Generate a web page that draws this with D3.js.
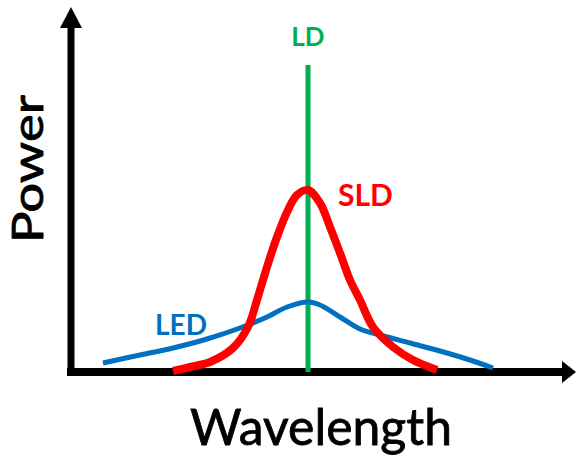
<!DOCTYPE html>
<html>
<head>
<meta charset="utf-8">
<script src="https://cdn.jsdelivr.net/npm/d3@7"></script>
<style>
  body { margin: 0; background: #fff; }
  svg { display: block; }
  text { font-family: Lato, "Open Sans", sans-serif; }
</style>
</head>
<body>
<svg id="chart" width="576" height="456"></svg>
<script>
// wavelength (arbitrary units) and power (arbitrary units)
var sldWave  = [102, 119, 139, 162, 177, 186, 196, 206, 217, 226, 237, 249, 259, 269, 279, 289, 302, 322, 342, 366];
var sldPower = [1, 5, 10, 24, 45, 72, 105, 135, 162, 177, 182, 169, 145, 119, 92, 72, 45, 25, 12, 2];

var ledWave  = [32, 69, 102, 136, 169, 196, 216, 237, 249, 269, 289, 309, 339, 376, 399, 422];
var ledPower = [9, 17, 24, 33, 44, 55, 65, 70, 67, 55, 43, 37, 29, 19, 12, 4];

var ldWave  = [237, 237];
var ldPower = [0, 307];

var axisLabels = {x: "Wavelength", y: "Power"};

var svg = d3.select("#chart"),
    margin = {top: 27, right: 13, bottom: 84, left: 71},
    width = +svg.attr("width"),
    height = +svg.attr("height");

var x = d3.scaleLinear()
  .domain([0, 492])
  .range([margin.left, width - margin.right]);

var y = d3.scaleLinear()
  .domain([0, 345])
  .range([height - margin.bottom, margin.top]);

var zip = (a, b) => a.map((v, i) => [v, b[i]]);

var line = d3.line()
  .x(d => x(d[0]))
  .y(d => y(d[1]))
  .curve(d3.curveCatmullRom.alpha(0.5));

// axes without ticks, thick black, with arrow heads
var xAxis = svg.append("g")
  .attr("transform", `translate(0,${y(0)})`)
  .call(d3.axisBottom(x).tickValues([]).tickSizeOuter(0));
xAxis.select(".domain")
  .attr("stroke", "#000").attr("stroke-width", 8)
  .attr("d", `M${x(0) - 4},0H${x(492)}`);

var yAxis = svg.append("g")
  .attr("transform", `translate(${x(0)},0)`)
  .call(d3.axisLeft(y).tickValues([]).tickSizeOuter(0));
yAxis.select(".domain")
  .attr("stroke", "#000").attr("stroke-width", 7)
  .attr("d", `M0,${y(0) + 4}V${y(345)}`);

svg.append("path")
  .attr("fill", "#000")
  .attr("d", `M${x(492) - 1},${y(0) - 11}L${x(492) + 13},${y(0)}L${x(492) - 1},${y(0) + 11}Z`);

svg.append("path")
  .attr("fill", "#000")
  .attr("d", `M${x(0) - 11},${y(345) + 1}L${x(0)},${y(345) - 20}L${x(0) + 11},${y(345) + 1}Z`);

// curves
svg.append("path")
  .datum(zip(ldWave, ldPower))
  .attr("fill", "none")
  .attr("stroke", "#00b050")
  .attr("stroke-width", 5)
  .attr("d", d3.line().x(d => x(d[0])).y(d => y(d[1])));

svg.append("path")
  .datum(zip(ledWave, ledPower))
  .attr("fill", "none")
  .attr("stroke", "#0070c0")
  .attr("stroke-width", 5)
  .attr("d", line);

svg.append("path")
  .datum(zip(sldWave, sldPower))
  .attr("fill", "none")
  .attr("stroke", "#ff0000")
  .attr("stroke-width", 8)
  .attr("d", line);

// series labels
svg.append("text")
  .attr("x", x(237)).attr("y", 46)
  .attr("text-anchor", "middle")
  .attr("fill", "#00b050")
  .style("font-size", "26px").style("font-weight", "bold")
  .text("LD");

svg.append("text")
  .attr("x", 338).attr("y", 206)
  .attr("fill", "#ff0000")
  .style("font-size", "30px").style("font-weight", "bold")
  .text("SLD");

svg.append("text")
  .attr("x", 155).attr("y", 335)
  .attr("fill", "#0070c0")
  .style("font-size", "28px").style("font-weight", "bold")
  .text("LED");

// axis titles
svg.append("text")
  .attr("x", 190).attr("y", 445)
  .attr("fill", "#000")
  .attr("stroke", "#000").attr("stroke-width", 0.8)
  .style("font-size", "50px")
  .attr("textLength", 262).attr("lengthAdjust", "spacingAndGlyphs")
  .text(axisLabels.x);

svg.append("text")
  .attr("transform", "translate(43,243) rotate(-90)")
  .attr("fill", "#000")
  .attr("stroke", "#000").attr("stroke-width", 0.8)
  .style("font-size", "43px")
  .attr("textLength", 148).attr("lengthAdjust", "spacingAndGlyphs")
  .text(axisLabels.y);
</script>
</body>
</html>
